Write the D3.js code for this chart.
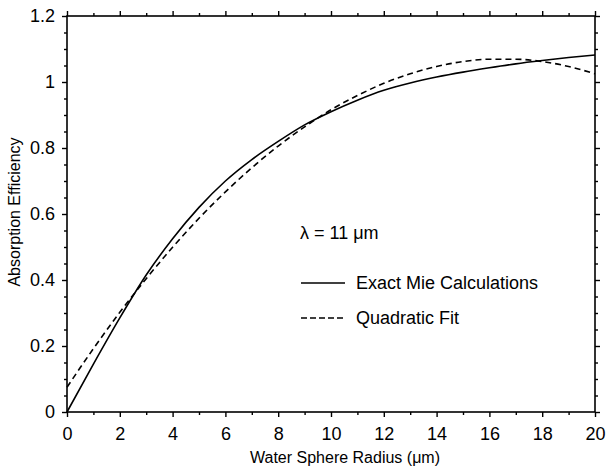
<!DOCTYPE html>
<html>
<head>
<meta charset="utf-8">
<script src="https://cdn.jsdelivr.net/npm/d3@7"></script>
<style>
  body { margin: 0; background: #fff; }
  text { font-family: "Liberation Sans", Arial, sans-serif; fill: #000; }
</style>
</head>
<body>
<script>
// radius values (um)
const radius = [0, 1, 2, 3, 4, 5, 6, 7, 8, 9, 10, 11, 12, 13, 14, 15, 16, 17, 18, 19, 20];
// exact Mie absorption efficiency
const mieValues = [0, 0.145, 0.285, 0.415, 0.525, 0.62, 0.70, 0.765, 0.82, 0.87, 0.91,
  0.945, 0.975, 0.997, 1.015, 1.03, 1.043, 1.055, 1.065, 1.074, 1.082];
// quadratic fit
const fitValues = [0.075, 0.192, 0.302, 0.404, 0.499, 0.587, 0.667, 0.740, 0.806, 0.864, 0.916,
  0.959, 0.996, 1.025, 1.047, 1.062, 1.069, 1.069, 1.062, 1.047, 1.025];

const xTicks = [0, 2, 4, 6, 8, 10, 12, 14, 16, 18, 20];
const yTicks = [0, 0.2, 0.4, 0.6, 0.8, 1, 1.2];
const legendLabels = ["Exact Mie Calculations", "Quadratic Fit"];

const W = 607, H = 471;
const svg = d3.select("body").append("svg")
  .attr("width", W)
  .attr("height", H);

const x = d3.scaleLinear().domain([0, 20]).range([67, 595]);
const y = d3.scaleLinear().domain([0, 1.2]).range([412, 16]);

const minorX = d3.range(0, 21, 1).filter(v => v % 2 !== 0);
const minorY = d3.range(0, 1.2001, 0.05).filter(v => Math.abs(v * 5 - Math.round(v * 5)) > 1e-6);

// frame
svg.append("rect")
  .attr("x", x(0)).attr("y", y(1.2))
  .attr("width", x(20) - x(0)).attr("height", y(0) - y(1.2))
  .attr("fill", "none").attr("stroke", "#000").attr("stroke-width", 1.6);

function styleAxis(g) {
  g.select(".domain").remove();
  g.selectAll(".tick line").attr("stroke", "#000").attr("stroke-width", 1.4);
}

// bottom axis
svg.append("g").attr("transform", `translate(0,${y(0)})`)
  .call(d3.axisBottom(x).tickValues(xTicks).tickSize(5).tickPadding(10).tickFormat(d3.format("d")))
  .call(styleAxis)
  .call(g => g.selectAll("text").attr("font-size", 18));
svg.append("g").attr("transform", `translate(0,${y(0)})`)
  .call(d3.axisBottom(x).tickValues(minorX).tickSize(3).tickFormat(""))
  .call(styleAxis);

// top axis
svg.append("g").attr("transform", `translate(0,${y(1.2)})`)
  .call(d3.axisTop(x).tickValues(xTicks).tickSize(5).tickFormat(""))
  .call(styleAxis);
svg.append("g").attr("transform", `translate(0,${y(1.2)})`)
  .call(d3.axisTop(x).tickValues(minorX).tickSize(3).tickFormat(""))
  .call(styleAxis);

// left axis
svg.append("g").attr("transform", `translate(${x(0)},0)`)
  .call(d3.axisLeft(y).tickValues(yTicks).tickSize(5).tickPadding(7).tickFormat(d3.format("~g")))
  .call(styleAxis)
  .call(g => g.selectAll("text").attr("font-size", 18));
svg.append("g").attr("transform", `translate(${x(0)},0)`)
  .call(d3.axisLeft(y).tickValues(minorY).tickSize(3).tickFormat(""))
  .call(styleAxis);

// right axis
svg.append("g").attr("transform", `translate(${x(20)},0)`)
  .call(d3.axisRight(y).tickValues(yTicks).tickSize(5).tickFormat(""))
  .call(styleAxis);
svg.append("g").attr("transform", `translate(${x(20)},0)`)
  .call(d3.axisRight(y).tickValues(minorY).tickSize(3).tickFormat(""))
  .call(styleAxis);

// axis titles
svg.append("text")
  .attr("x", 345).attr("y", 463)
  .attr("text-anchor", "middle")
  .attr("font-size", 16)
  .text("Water Sphere Radius (\u03bcm)");

svg.append("text")
  .attr("transform", "translate(20,212) rotate(-90)")
  .attr("text-anchor", "middle")
  .attr("font-size", 16)
  .text("Absorption Efficiency");

// curves
const line = d3.line().curve(d3.curveMonotoneX);

svg.append("path")
  .attr("d", line(radius.map((r, i) => [x(r), y(mieValues[i])])))
  .attr("fill", "none").attr("stroke", "#000").attr("stroke-width", 1.6);

svg.append("path")
  .attr("d", line(radius.map((r, i) => [x(r), y(fitValues[i])])))
  .attr("fill", "none").attr("stroke", "#000").attr("stroke-width", 1.6)
  .attr("stroke-dasharray", "6,4");

// legend
svg.append("text")
  .attr("x", 300).attr("y", 239)
  .attr("font-size", 18)
  .text("\u03bb = 11 \u03bcm");

const legend = svg.append("g").attr("transform", "translate(301,283)");
legendLabels.forEach((label, i) => {
  const row = legend.append("g").attr("transform", `translate(0,${i * 35})`);
  row.append("line")
    .attr("x1", 0).attr("x2", 44)
    .attr("stroke", "#000").attr("stroke-width", 1.4)
    .attr("stroke-dasharray", i === 0 ? null : "6,3");
  row.append("text")
    .attr("x", 55).attr("y", 6)
    .attr("font-size", 18)
    .text(label);
});
</script>
</body>
</html>
